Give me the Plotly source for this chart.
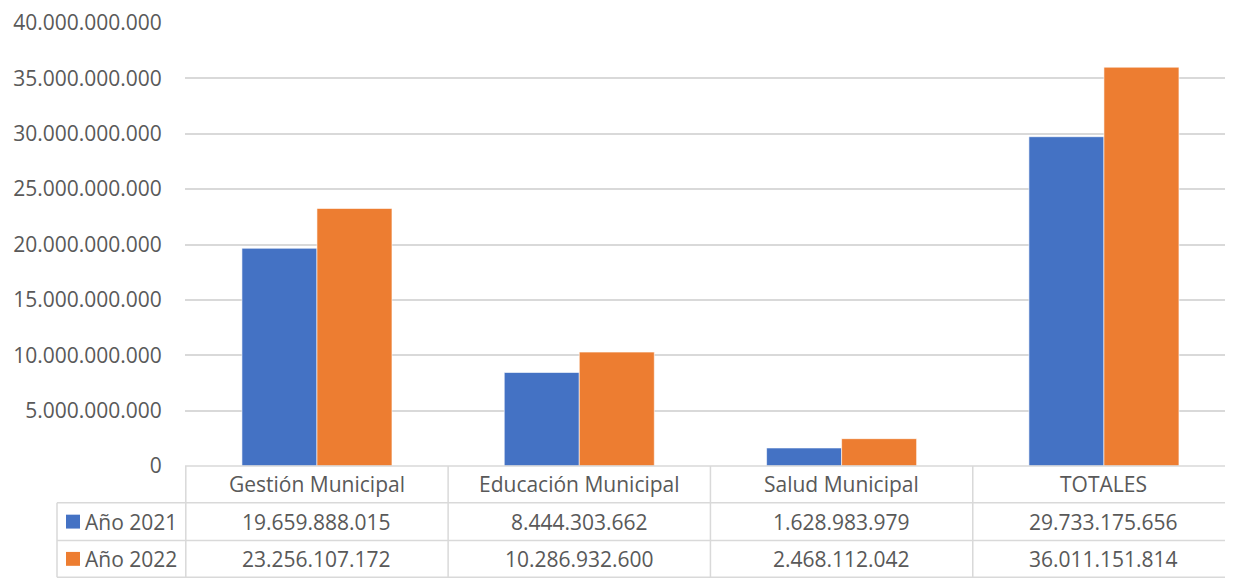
import plotly.graph_objects as go

categories = ["Gestión Municipal", "Educación Municipal", "Salud Municipal", "TOTALES"]
series_names = ["Año 2021", "Año 2022"]
values_2021 = [19659888015, 8444303662, 1628983979, 29733175656]
values_2022 = [23256107172, 10286932600, 2468112042, 36011151814]
colors = ["#4472C4", "#ED7D31"]
tick_vals = [0, 5e9, 10e9, 15e9, 20e9, 25e9, 30e9, 35e9, 40e9]

OFF = 8  # page body margin
W, H = 1233 - OFF, 579 - OFF
ML, MR, MT, MB = 185 - OFF, 0, 20 - OFF, 113
PH = H - MT - MB
PW = W - ML - MR
FONT = "Open Sans"
FS = 21
TXT = "#595959"
GRID = "#D9D9D9"
AXIS_Y = 466  # page pixel of the zero line
AXIS_X = 185  # page pixel of plot left edge


def py(pix):
    return (AXIS_Y - pix) / PH


def px(pix):
    return (pix - AXIS_X) / PW


def fmt(v):
    return f"{v:,}".replace(",", ".")


fig = go.Figure()
for name, vals, col in zip(series_names, [values_2021, values_2022], colors):
    fig.add_trace(go.Bar(x=categories, y=vals, name=name,
                         marker=dict(color=col, line=dict(color="white", width=0.6))))

shapes = []
ann = []
row_lines = [466, 503, 541, 578]
n = len(categories)
LW = 1.5
shapes.append(dict(type="line", xref="paper", yref="paper", x0=0, x1=1,
                   y0=py(row_lines[0]), y1=py(row_lines[0]), line=dict(color=GRID, width=LW)))
for r in row_lines[1:]:
    shapes.append(dict(type="line", xref="paper", yref="paper", x0=px(57), x1=1,
                       y0=py(r), y1=py(r), line=dict(color=GRID, width=LW)))
for i in range(n):
    shapes.append(dict(type="line", xref="x", yref="paper", x0=i - 0.5, x1=i - 0.5,
                       y0=py(row_lines[0]), y1=py(row_lines[-1]), line=dict(color=GRID, width=LW)))
shapes.append(dict(type="line", xref="paper", yref="paper", x0=px(57), x1=px(57),
                   y0=py(row_lines[1]), y1=py(row_lines[-1]), line=dict(color=GRID, width=LW)))

for c in categories:
    ann.append(dict(x=c, xref="x", y=py((row_lines[0] + row_lines[1]) / 2), yref="paper",
                    xanchor="center", yanchor="middle",
                    text=c, showarrow=False, font=dict(family=FONT, size=FS, color=TXT)))
for ri, (name, vals, col) in enumerate(zip(series_names, [values_2021, values_2022], colors)):
    yc = (row_lines[ri + 1] + row_lines[ri + 2]) / 2
    for c, v in zip(categories, vals):
        ann.append(dict(x=c, xref="x", y=py(yc), yref="paper", text=fmt(v), showarrow=False,
                        xanchor="center", yanchor="middle",
                        font=dict(family=FONT, size=FS, color=TXT)))
    shapes.append(dict(type="rect", xref="paper", yref="paper", x0=px(66), x1=px(80),
                       y0=py(yc - 7), y1=py(yc + 7), fillcolor=col, line=dict(width=0)))
    ann.append(dict(x=px(83), xref="paper", y=py(yc), yref="paper", text=name, showarrow=False,
                    xanchor="left", yanchor="middle",
                    font=dict(family=FONT, size=FS, color=TXT)))

fig.update_layout(
    width=W, height=H,
    margin=dict(l=ML, r=MR, t=MT, b=MB),
    plot_bgcolor="white", paper_bgcolor="white",
    separators=",.",
    barmode="group", bargap=0.428, bargroupgap=0,
    showlegend=False,
    shapes=shapes, annotations=ann,
    xaxis=dict(showticklabels=False, showgrid=False, zeroline=False, showline=False,
               range=[-0.503, 3.492]),
    yaxis=dict(range=[0, 40e9], tickvals=tick_vals, tickformat=",d",
               showgrid=True, gridcolor=GRID, gridwidth=1.5, zeroline=False,
               ticks="outside", ticklen=18, tickcolor="rgba(0,0,0,0)",
               ticklabeloverflow="allow",
               tickfont=dict(family=FONT, size=FS, color=TXT)),
)

fig.write_html("out.html")
